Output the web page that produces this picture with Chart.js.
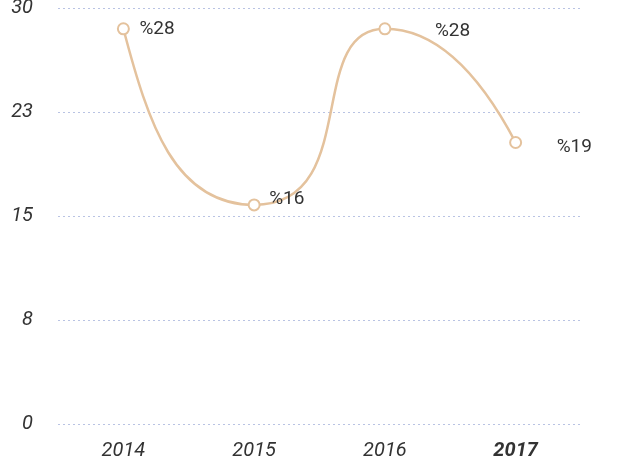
<!DOCTYPE html>
<html>
<head>
<meta charset="utf-8">
<script src="https://cdn.jsdelivr.net/npm/chart.js@4/dist/chart.umd.min.js"></script>
<style>
  html, body { margin: 0; padding: 0; background: #fff; }
</style>
</head>
<body>
<canvas id="grafico" width="621" height="459"></canvas>
<script>
// datos
var anios = ['2014', '2015', '2016', '2017'];
var valores = [28.5, 15.8, 28.5, 20.3];
var etiquetas = ['%28', '%16', '%28', '%19'];
var ticksY = [0, 8, 15, 23, 30];

var colorLinea = '#e4c29d';
var fuente = "'Liberation Sans Narrow', Roboto, sans-serif";

// forma de la curva: brazos de control (fraccion del paso en x) y pendiente en cada punto
var curvaPlugin = {
    id: 'curva',
    beforeDatasetDraw: function (chart, args, opts) {
        var meta = args.meta;
        meta.dataset.updateControlPoints(chart.chartArea, 'x');
        var pts = meta.data;
        var paso = pts[1].x - pts[0].x;
        for (let i = 0; i < pts.length; i++) {
            let p = pts[i];
            let bi = opts.entrada[i] * paso;
            let bo = opts.salida[i] * paso;
            let m = opts.pendiente[i];
            p.cp1x = p.x - bi;
            p.cp1y = p.y - bi * m;
            p.cp2x = p.x + bo;
            p.cp2y = p.y + bo * m;
        }
    }
};

// etiquetas al lado de cada punto
var etiquetasPlugin = {
    id: 'etiquetas',
    afterDatasetsDraw: function (chart, args, opts) {
        var ctx = chart.ctx;
        var meta = chart.getDatasetMeta(0);
        ctx.save();
        ctx.font = '19px ' + fuente;
        ctx.fillStyle = '#333';
        ctx.textBaseline = 'middle';
        ctx.textAlign = 'left';
        for (let i = 0; i < meta.data.length; i++) {
            let p = meta.data[i];
            ctx.fillText(etiquetas[i], p.x + opts.dx[i], p.y + opts.dy[i]);
        }
        ctx.restore();
    }
};

var ctx = document.getElementById('grafico').getContext('2d');
new Chart(ctx, {
    type: 'line',
    data: {
        labels: anios,
        datasets: [{
            data: valores,
            borderColor: colorLinea,
            borderWidth: 2.5,
            tension: 0.4,
            fill: false,
            pointRadius: 5.5,
            pointBorderWidth: 2,
            pointBackgroundColor: '#fff',
            pointBorderColor: colorLinea
        }]
    },
    options: {
        responsive: false,
        animation: false,
        layout: { padding: { top: 8, right: 40, left: 0, bottom: 0 } },
        plugins: {
            legend: { display: false },
            tooltip: { enabled: false },
            curva: {
                entrada: [0, 0.61, 0.62, 0.33],
                salida: [0.19, 0.83, 0.33, 0],
                pendiente: [3.8, 0, 0, 1.9]
            },
            etiquetas: { dx: [16, 15, 50, 41], dy: [0, -6, 2, 5] }
        },
        scales: {
            x: {
                offset: true,
                grid: { display: false, drawTicks: false },
                border: { display: false },
                afterFit: function (axis) {
                    axis.height = 35;
                    axis.paddingLeft = 0;
                    axis.paddingRight = 0;
                },
                ticks: {
                    padding: 15,
                    color: '#333',
                    font: function (c) {
                        return {
                            family: fuente,
                            size: 20,
                            style: 'italic',
                            weight: c.index === 3 ? 'bold' : 'normal'
                        };
                    }
                }
            },
            y: {
                min: 0,
                max: 30,
                afterBuildTicks: function (axis) {
                    axis.ticks = [0, 7.5, 15, 22.5, 30].map(function (v) { return { value: v }; });
                },
                afterFit: function (axis) {
                    axis.width = 58;
                    axis.paddingTop = 0;
                    axis.paddingBottom = 0;
                },
                grid: {
                    color: '#b9c3e3',
                    lineWidth: 1,
                    drawTicks: false
                },
                border: { display: false, dash: [2, 3] },
                ticks: {
                    padding: 25,
                    color: '#333',
                    font: { family: fuente, size: 20, style: 'italic' },
                    callback: function (v, i) { return ticksY[i]; }
                }
            }
        }
    },
    plugins: [curvaPlugin, etiquetasPlugin]
});
</script>
</body>
</html>
